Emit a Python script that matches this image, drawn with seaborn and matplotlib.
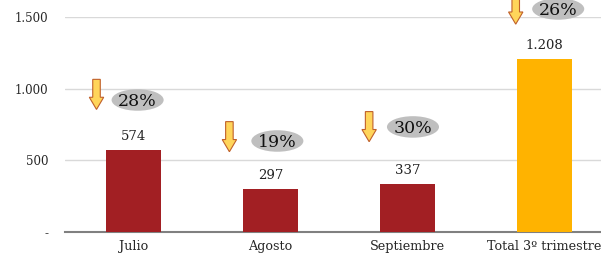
import matplotlib
matplotlib.use('Agg')
import matplotlib.pyplot as plt
import seaborn as sns
import pandas as pd
from matplotlib.patches import Ellipse, FancyArrow

# Datos del gráfico
categorias = ['Julio', 'Agosto', 'Septiembre', 'Total 3º trimestre']
valores = [574, 297, 337, 1208]
etiquetas_valor = ['574', '297', '337', '1.208']
porcentajes = ['28%', '19%', '30%', '26%']
grupos = ['mes', 'mes', 'mes', 'total']
y_ticks = [0, 500, 1000, 1500]
y_ticklabels = ['-', '500', '1.000', '1.500']

# posiciones de flechas y burbujas (x relativo a categoría, y en datos)
flecha_dx = [-0.27, -0.30, -0.28, -0.21]
flecha_y = [1065, 770, 840, 1660]
burbuja_dx = [0.03, 0.05, 0.04, 0.10]
burbuja_y = [921, 635, 733, 1556]

sns.set_theme(style='white')
plt.rcParams['font.family'] = ['DejaVu Serif']

df = pd.DataFrame({'categoria': categorias, 'valor': valores, 'grupo': grupos})

fig = plt.figure(figsize=(6.01, 2.59), dpi=100)
ax = fig.add_axes([65 / 601, 27 / 259, 548 / 601, 215 / 259])

sns.barplot(data=df, x='categoria', y='valor', hue='grupo',
            palette={'mes': '#A21F23', 'total': '#FFB300'},
            saturation=1, linewidth=0,
            dodge=False, width=0.4, legend=False, ax=ax, zorder=3)

ax.set_ylim(0, 1500)
ax.set_xlim(-0.5, 3.5)
ax.set_yticks(y_ticks)
ax.set_yticklabels(y_ticklabels, fontsize=8.5)
ax.yaxis.grid(True, color='#D9D9D9', linewidth=1, zorder=0)
ax.set_axisbelow(True)
ax.set_xlabel('')
ax.set_ylabel('')
for s in ['left', 'right', 'top']:
    ax.spines[s].set_visible(False)
ax.spines['bottom'].set_color('#808080')
ax.spines['bottom'].set_linewidth(1.5)
ax.set_xticks(range(len(categorias)))
ax.set_xticklabels(categorias, fontsize=9.2)
ax.tick_params(axis='x', length=0, pad=6)
ax.tick_params(axis='y', length=0, pad=12)
ax.set_xticks([-0.5, 0.5, 1.5, 2.5], minor=True)
ax.tick_params(axis='x', which='minor', length=4, color='#808080', width=1)

for i, v in enumerate(valores):
    ax.text(i, v + 50, etiquetas_valor[i], ha='center', va='bottom', fontsize=9.5,
            color='#222222')
    # flecha hacia abajo
    ax.add_patch(FancyArrow(i + flecha_dx[i], flecha_y[i], 0, -210,
                            width=0.055, head_width=0.105, head_length=85,
                            length_includes_head=True, facecolor='#FFD55A',
                            edgecolor='#C0602A', linewidth=0.8, clip_on=False,
                            zorder=5))
    ax.add_patch(Ellipse((i + burbuja_dx[i], burbuja_y[i]), 0.38, 150,
                         facecolor='#BFBFBF', edgecolor='none', clip_on=False,
                         zorder=4))
    ax.text(i + burbuja_dx[i], burbuja_y[i] - 10, porcentajes[i], ha='center',
            va='center', fontsize=12.5, color='#111111', zorder=6, clip_on=False)

fig.savefig('out.png', dpi=100)
